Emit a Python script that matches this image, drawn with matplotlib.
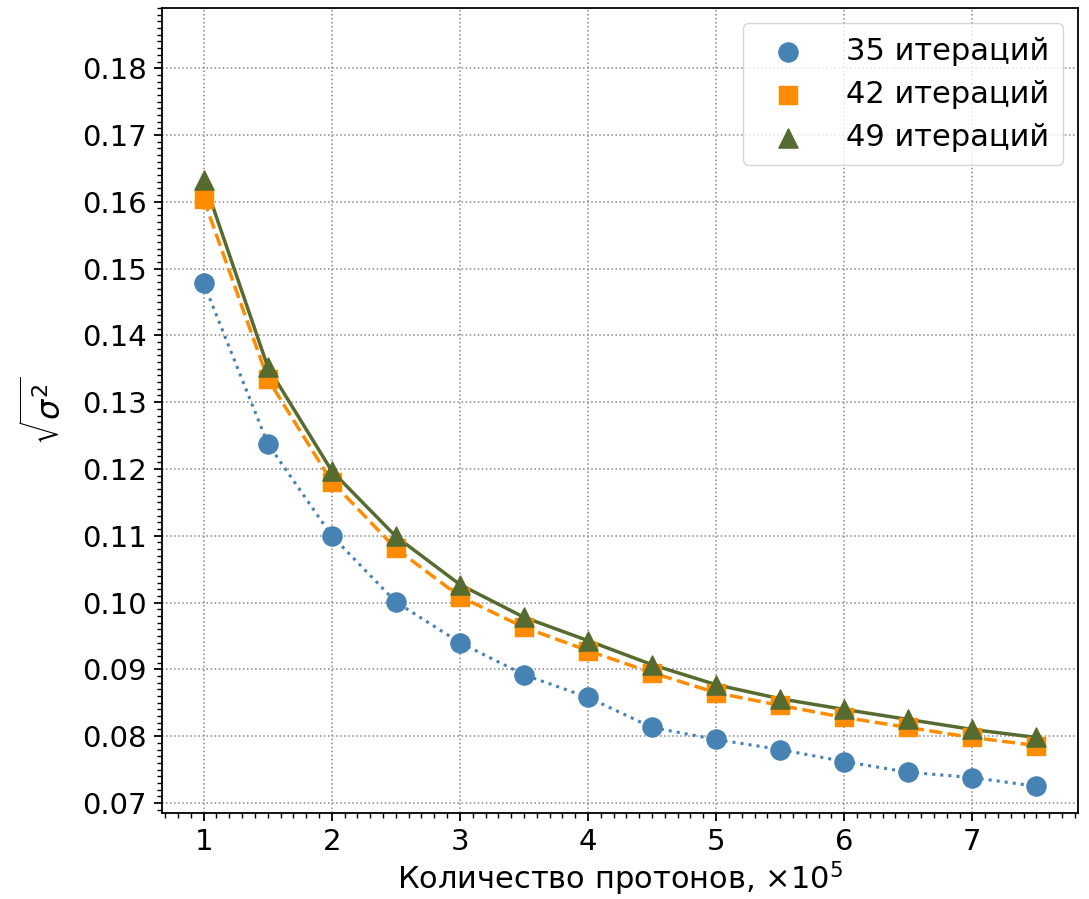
import matplotlib
matplotlib.use("Agg")
import matplotlib.pyplot as plt
from matplotlib.ticker import MultipleLocator, FormatStrFormatter

x = [1.0, 1.5, 2.0, 2.5, 3.0, 3.5, 4.0, 4.5, 5.0, 5.5, 6.0, 6.5, 7.0, 7.5]
y35 = [0.1478, 0.1238, 0.1100, 0.1001, 0.0940, 0.0892, 0.0858, 0.0813, 0.0795, 0.0780, 0.0762, 0.0746, 0.0738, 0.0725]
y42 = [0.1604, 0.1335, 0.1181, 0.1081, 0.1009, 0.0963, 0.0928, 0.0895, 0.0865, 0.0846, 0.0828, 0.0813, 0.0798, 0.0786]
y49 = [0.1633, 0.1353, 0.1197, 0.1099, 0.1027, 0.0978, 0.0943, 0.0907, 0.0877, 0.0856, 0.0840, 0.0825, 0.0810, 0.0798]
labels = ["35 итераций", "42 итераций", "49 итераций"]

c_blue = "#4682B4"
c_orange = "#FF8C00"
c_green = "#556B2F"

fig = plt.figure(figsize=(10.89, 8.99), dpi=100)
ax = fig.add_axes([0.1488, 0.0957, 0.8411, 0.8953])

ax.plot(x, y35, linestyle=":", color=c_blue, lw=2.2, zorder=2)
ax.plot(x, y42, linestyle="--", color=c_orange, lw=2.5, zorder=2)
ax.plot(x, y49, linestyle="-", color=c_green, lw=2.5, zorder=2)

ax.scatter(x, y35, marker="o", s=190, color=c_blue, label=labels[0], zorder=3)
ax.scatter(x, y42, marker="s", s=170, color=c_orange, label=labels[1], zorder=3)
ax.scatter(x, y49, marker="^", s=190, color=c_green, label=labels[2], zorder=4)

ax.set_xlim(0.675, 7.825)
ax.set_ylim(0.0685, 0.189)
ax.xaxis.set_major_locator(MultipleLocator(1))
ax.xaxis.set_minor_locator(MultipleLocator(0.1))
ax.yaxis.set_major_locator(MultipleLocator(0.01))
ax.yaxis.set_minor_locator(MultipleLocator(0.001))
ax.yaxis.set_major_formatter(FormatStrFormatter("%.2f"))

ax.grid(True, which="major", linestyle=":", color="#888888", lw=1.1)
ax.tick_params(axis="both", which="major", labelsize=21, length=6, width=1.3, pad=5)
ax.tick_params(axis="both", which="minor", length=3.5, width=1.0)
for s in ax.spines.values():
    s.set_linewidth(1.3)

ax.set_xlabel(r"Количество протонов, $\times 10^5$", fontsize=22, labelpad=2)
ax.set_ylabel(r"$\sqrt{\sigma^2}$", fontsize=23)
ax.yaxis.set_label_coords(-0.102, 0.5)

ax.legend(loc="upper right", fontsize=22, borderpad=0.45, handletextpad=0.9,
          labelspacing=0.45, borderaxespad=0.5)

fig.savefig("out.png", dpi=100)
